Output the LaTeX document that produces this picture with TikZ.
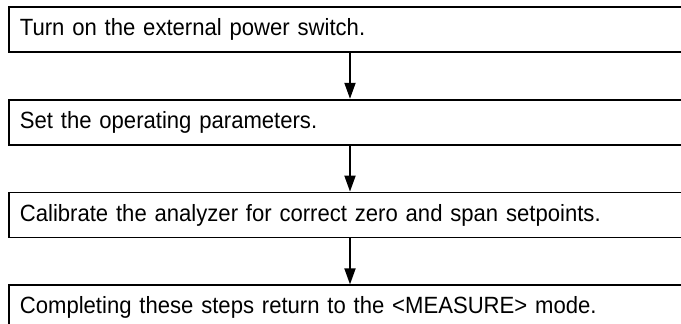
\documentclass[tikz,border=0pt]{standalone}
\usepackage{fontspec}
\setmainfont[FakeStretch=0.94]{Liberation Sans}
\usetikzlibrary{positioning,arrows.meta}
\begin{document}
\begin{tikzpicture}[x=1pt, y=1pt,
  stepbox/.style={draw, line width=1.8pt, minimum height=45pt, text width=680pt, inner xsep=11pt, align=left, font=\fontsize{23.5}{28}\selectfont},
  flow/.style={-{Triangle[length=16pt, width=11pt]}, line width=1.8pt}]
\useasboundingbox (0,0) rectangle (681,-324);
\clip (0,0) rectangle (681,-324);
% steps
\node[stepbox, anchor=north west] (s1) at (8,-6) {Turn on the external power switch.};
\node[stepbox, below=46pt of s1] (s2) {Set the operating parameters.};
\node[stepbox, below=46pt of s2] (s3) {Calibrate the analyzer for correct zero and span setpoints.};
\node[stepbox, below=46pt of s3] (s4) {Completing these steps return to the <MEASURE> mode.};
% arrows between the steps
\coordinate (ax) at (350,0);
\foreach \a/\b in {s1/s2, s2/s3, s3/s4}
  \draw[flow] (\a.south -| ax) -- (\b.north -| ax);
\end{tikzpicture}
\end{document}
